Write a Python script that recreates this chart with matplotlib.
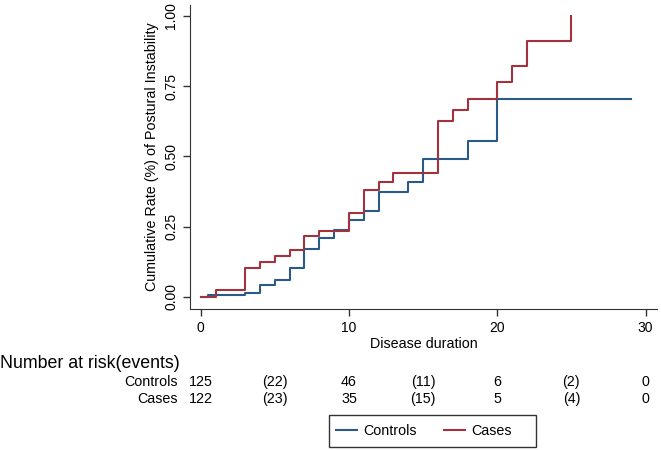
import matplotlib
matplotlib.use("Agg")
import matplotlib.pyplot as plt
from matplotlib.lines import Line2D
from matplotlib.patches import Rectangle

plt.rcParams['font.family'] = ['Liberation Sans', 'DejaVu Sans']

# Step data (time of step, cumulative rate after step)
ctrl_t = [0, 0.5, 3, 4, 5, 6, 7, 8, 9, 10, 11, 12, 14, 15, 18, 20, 29]
ctrl_y = [0, 0.007, 0.014, 0.043, 0.060, 0.102, 0.171, 0.209, 0.238, 0.272,
          0.307, 0.374, 0.408, 0.492, 0.555, 0.703, 0.703]
case_t = [0, 1, 3, 4, 5, 6, 7, 8, 10, 11, 12, 13, 16, 17, 18, 20, 21, 22, 25]
case_y = [0, 0.025, 0.104, 0.123, 0.144, 0.167, 0.218, 0.234, 0.300, 0.380,
          0.408, 0.441, 0.626, 0.664, 0.706, 0.765, 0.823, 0.912, 0.912]
case_end_y = 1.0

risk_times = [0, 5, 10, 15, 20, 25, 30]
ctrl_risk = ["125", "(22)", "46", "(11)", "6", "(2)", "0"]
case_risk = ["122", "(23)", "35", "(15)", "5", "(4)", "0"]

xticks = [0, 10, 20, 30]
yticks = [0.00, 0.25, 0.50, 0.75, 1.00]

blue = '#2a5a8a'
red = '#a3323f'

W, H = 661, 450
fig = plt.figure(figsize=(W / 100, H / 100), dpi=100)
ax = fig.add_axes([190 / W, 1 - 308.7 / H, (657 - 190) / W, (308.7 - 5) / H])

ax.step(ctrl_t, ctrl_y, where='post', color=blue, lw=1.5)
ax.step(case_t + [case_t[-1]], case_y + [case_end_y], where='post', color=red, lw=1.5)

ax.set_xlim(-0.72, 30.77)
ax.set_ylim(-0.042, 1.039)
ax.set_xticks(xticks)
ax.set_yticks(yticks)
ax.set_yticklabels([f"{v:.2f}" for v in yticks], rotation=90, va='center')
ax.tick_params(axis='both', direction='out', length=5, width=1, labelsize=10, color='#333333')
for s in ['top', 'right']:
    ax.spines[s].set_visible(False)
for s in ['left', 'bottom']:
    ax.spines[s].set_color('#333333')
ax.set_xlabel("Disease duration", fontsize=10.3, labelpad=2)
ax.set_ylabel("Cumulative Rate (%) of Postural Instability", fontsize=10.3, labelpad=4)

# Risk table
fig.text(0.0, 1 - 363 / H, "Number at risk(events)", fontsize=12.8, va='center', ha='left')
row_y = [1 - 382 / H, 1 - 399 / H]
inv = fig.transFigure.inverted()
for label, vals, yy in [("Controls", ctrl_risk, row_y[0]), ("Cases", case_risk, row_y[1])]:
    fig.text(178 / W, yy, label, fontsize=10.3, ha='right', va='center')
    for t, v in zip(risk_times, vals):
        xd = ax.transData.transform((t, 0))[0]
        xf = inv.transform((xd, 0))[0]
        fig.text(xf, yy, v, fontsize=10.3, ha='center', va='center')

# Legend
handles = [Line2D([], [], color=blue, lw=1.5), Line2D([], [], color=red, lw=1.5)]
leg = fig.legend(handles, ["Controls", "Cases"], loc='center left',
                 bbox_to_anchor=(336 / W, 1 - 431 / H), borderaxespad=0,
                 ncol=2, frameon=False, fontsize=10.3, borderpad=0,
                 handlelength=1.47, columnspacing=1.9, handletextpad=0.42)
fig.patches.append(Rectangle((329 / W, 1 - 447 / H), (536 - 329) / W, 32 / H,
                             transform=fig.transFigure, fill=False,
                             edgecolor='#333333', lw=1))

fig.savefig("out.png", dpi=100)
